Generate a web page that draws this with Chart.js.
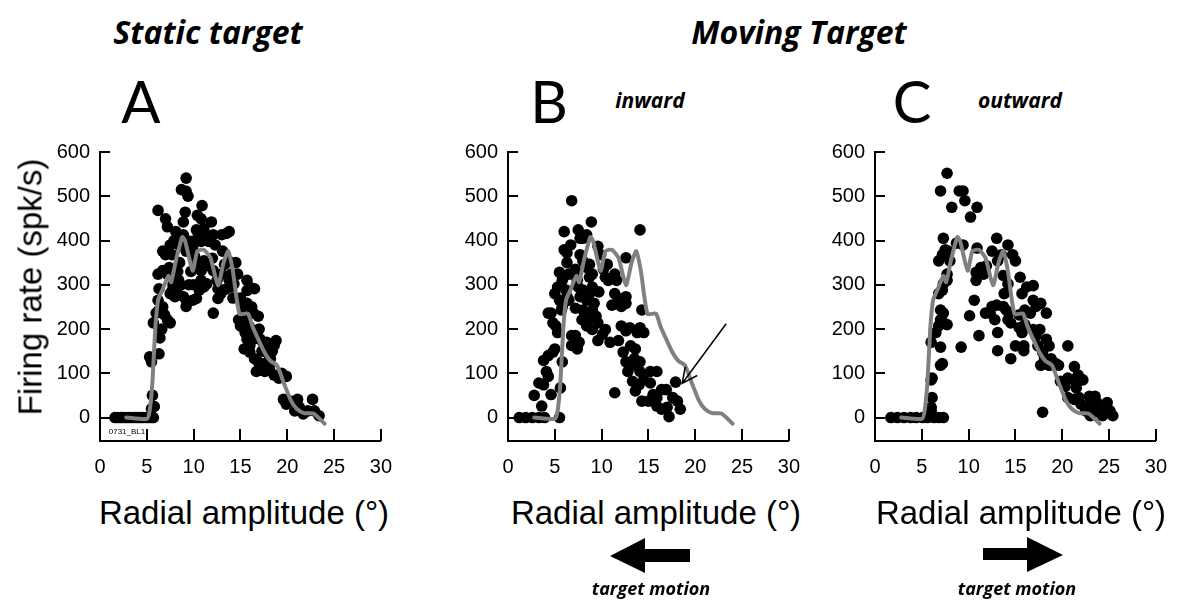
<!DOCTYPE html>
<html lang="en">
<head>
<meta charset="UTF-8">
<title>Firing rate vs radial amplitude</title>
<script src="https://cdn.jsdelivr.net/npm/chart.js"></script>
<style>
  body { margin: 0; width: 1187px; height: 601px; background: #fff; position: relative; overflow: hidden;
         font-family: "Liberation Sans", Arial, sans-serif; color: #000; }
  canvas.panel { position: absolute; top: 130px; }
  .t { position: absolute; white-space: nowrap; transform: translate(-50%, -50%); line-height: 1; }
  .hdr { font-family: "Open Sans", sans-serif; font-weight: bold; font-style: italic; font-size: 32px; }
  .letter { font-family: Lato, sans-serif; font-size: 58px; }
  .dir { font-family: "Open Sans", sans-serif; font-weight: bold; font-style: italic; font-size: 21px; }
  .axt { font-size: 33px; }
  .motion { font-family: "Open Sans", sans-serif; font-weight: bold; font-style: italic; font-size: 18px; }
  svg { position: absolute; left: 0; top: 0; }
</style>
</head>
<body>
<div class="t hdr" style="left:208px; top:32px;">Static target</div>
<div class="t hdr" style="left:799px; top:32px;">Moving Target</div>
<div class="t letter" style="left:141px; top:101px;">A</div>
<div class="t letter" style="left:549px; top:101px;">B</div>
<div class="t letter" style="left:912px; top:101px;">C</div>
<div class="t dir" style="left:650px; top:100px;">inward</div>
<div class="t dir" style="left:1020px; top:100px;">outward</div>

<canvas class="panel" id="chartA" width="376" height="351" style="left:30px;"></canvas>
<canvas class="panel" id="chartB" width="376" height="351" style="left:438px;"></canvas>
<canvas class="panel" id="chartC" width="376" height="351" style="left:805px;"></canvas>

<div class="t axt" style="left:30px; top:287px; transform: translate(-50%, -50%) rotate(-90deg);">Firing rate (spk/s)</div>
<div class="t axt" style="left:244px; top:512px;">Radial amplitude (°)</div>
<div class="t axt" style="left:656px; top:512px;">Radial amplitude (°)</div>
<div class="t axt" style="left:1021px; top:512px;">Radial amplitude (°)</div>
<div class="t" style="left:127px; top:432px; font-size:8px;">0731_BL1</div>

<svg width="1187" height="601">
  <polygon points="610,556 645,538 645,549 690,549 690,562 645,562 645,573" fill="#000"/>
  <polygon points="983,548 1027,548 1027,537 1063,555 1027,572 1027,560 983,560" fill="#000"/>
</svg>
<div class="t motion" style="left:651px; top:588px;">target motion</div>
<div class="t motion" style="left:1017px; top:588px;">target motion</div>

<script>
// axis ticks
const xTicks = [0, 5, 10, 15, 20, 25, 30];
const yTicks = [0, 100, 200, 300, 400, 500, 600];

// static tuning curve (grey line, same in every panel)
const curveX = [2.8, 5.0, 5.3, 5.6, 5.9, 6.2, 6.7, 7.3, 7.6, 8.1, 8.8, 9.1, 9.9, 10.4, 11.1, 11.8, 12.6, 13.2, 13.7, 14.2,
                14.9, 15.8, 16.3, 16.9, 17.5, 18.2, 18.9, 19.6, 20.4, 21.0, 21.8, 22.8, 24.0];
const curveY = [0, -3, 15, 80, 200, 265, 290, 320, 306, 354, 408, 398, 332, 376, 379, 361, 299, 350, 376, 330,
                234, 235, 205, 177, 150, 128, 118, 80, 38, 20, 10, 9, -14];

// A: static target
const staticX = [1.6, 1.9, 2.2, 2.5, 2.8, 3.1, 3.4, 3.7, 4.0, 4.3, 4.6, 4.9, 5.2, 5.5, 5.7,
  5.6, 5.8, 5.5, 5.3, 6.3, 5.5, 5.7, 6.0, 6.2, 6.3,
  6.7, 7.2, 7.5, 6.9, 6.3, 6.2, 6.7, 7.2, 7.4, 6.7,
  7.0, 7.5, 7.7, 6.2, 7.0, 7.2, 7.5, 7.7, 8.0, 8.2,
  8.0, 8.4, 8.6, 8.9, 9.2, 9.2, 9.9, 10.3, 8.9, 9.1,
  8.7, 9.2, 9.4, 9.2, 8.9, 9.1, 9.2, 9.6, 9.9, 10.1,
  10.4, 10.9, 10.8, 11.1, 10.3, 10.4, 10.8, 11.3, 11.6, 10.4,
  10.8, 11.1, 11.4, 10.8, 11.1, 11.4, 10.6, 11.9, 12.1, 12.3,
  12.1, 12.5, 12.1, 12.6, 12.6, 13.0, 13.5, 13.8, 13.1, 13.3,
  13.7, 13.0, 14.0, 13.8, 14.5, 14.7, 14.0, 14.3, 14.8, 15.4,
  15.7, 15.7, 16.0, 16.5, 15.2, 15.7, 15.0, 15.5, 15.9, 16.2,
  16.9, 16.4, 15.7, 16.0, 16.4, 16.7, 17.1, 17.4, 15.4, 16.0,
  16.5, 16.9, 17.4, 17.9, 18.1, 18.6, 18.8, 16.7, 17.2, 17.6,
  18.1, 18.6, 19.1, 19.4, 19.9, 17.8, 18.2, 19.6, 19.9, 20.3,
  21.1, 21.3, 20.8, 21.7, 22.2, 22.7, 22.9, 23.4,
  7.8, 8.3, 8.5, 9.5, 9.7, 10.0, 7.9, 8.4, 8.1, 6.6, 6.4, 12.0, 12.9, 13.4, 14.2, 15.0, 15.3, 16.2, 17.0, 17.3, 17.8, 18.4];
const staticY = [0, 0, 0, 0, 0, 0, 0, 0, 0, 0, 0, 0, 0, 0, 0,
  50, 25, 20, 137, 144, 126, 214, 236, 265, 243,
  250, 221, 214, 232, 291, 324, 332, 324, 339, 376,
  368, 390, 368, 468, 449, 431, 280, 287, 273, 284,
  324, 310, 299, 273, 265, 251, 265, 269, 442, 464,
  515, 511, 500, 541, 413, 390, 376, 398, 383, 365,
  457, 479, 449, 427, 424, 405, 398, 413, 398, 346,
  332, 354, 343, 310, 295, 302, 288, 442, 413, 390,
  332, 310, 236, 269, 291, 413, 416, 420, 376, 346,
  354, 324, 324, 310, 350, 324, 295, 302, 221, 225,
  310, 287, 295, 291, 251, 258, 207, 192, 207, 199,
  229, 236, 177, 163, 177, 185, 177, 170, 155, 148,
  133, 126, 118, 126, 140, 163, 174, 104, 107, 104,
  111, 96, 89, 100, 93, 148, 133, 41, 30, 37,
  41, 23, 15, 8, 15, 41, 15, 4,
  300, 330, 350, 300, 330, 300, 400, 390, 420, 200, 180, 360, 280, 290, 270, 270, 240, 250, 200, 150, 170, 150];

// B: moving target, inward
const inwardX = [1.2, 1.9, 2.6, 3.3, 3.9, 5.5,
  3.6, 4.6, 2.8, 5.6, 3.3, 3.8, 4.1, 4.3,
  3.8, 4.3, 4.8, 5.0, 5.8, 4.3, 4.6, 4.8, 5.3, 5.1,
  5.0, 5.3, 5.5, 5.8, 5.7, 5.5, 5.8, 6.2, 6.3, 6.5,
  6.0, 6.3, 6.7, 6.0, 6.8,
  6.3, 6.5, 7.0, 7.2, 7.4, 7.2, 6.8, 6.8, 7.4, 7.6, 7.2,
  7.5, 7.7, 8.0, 8.4, 8.9, 7.7, 8.0, 8.4, 8.7, 9.0, 8.7,
  7.5, 7.7, 8.0, 8.4, 8.7, 9.0, 9.2, 9.7,
  7.9, 8.2, 8.4, 8.7, 9.0, 9.4, 9.6, 8.0, 9.0,
  9.6, 10.1, 10.4, 10.9, 9.6, 9.9, 10.4, 10.7, 11.4, 11.6, 10.6, 10.2,
  11.1, 11.4, 11.8, 12.1, 12.6, 12.6, 12.1, 12.6, 13.0, 11.8, 12.6,
  12.3, 12.6, 13.0, 12.8, 13.5, 13.1, 13.6, 13.8, 14.1, 14.5,
  13.6, 14.1, 14.1, 13.3, 13.6, 14.0, 14.5, 15.2,
  11.4, 14.1, 14.3,
  14.3, 15.0, 15.5, 15.9, 16.4, 16.9, 15.2, 15.9,
  15.9, 16.4, 17.0, 17.6, 18.1, 18.4, 17.2, 17.9];
const inwardY = [0, 0, 0, 0, 0, 0,
  26, 52, 50, 67, 78, 74, 104, 93,
  129, 140, 148, 155, 126, 236, 236, 214, 192, 207,
  280, 295, 265, 251, 243, 328, 310, 288, 273, 265,
  379, 372, 390, 420, 490,
  350, 324, 324, 335, 310, 247, 185, 163, 155, 170, 185,
  424, 405, 405, 413, 442, 368, 354, 339, 346, 324, 317,
  295, 273, 288, 265, 280, 295, 258, 284,
  221, 229, 207, 225, 199, 229, 214, 243, 243,
  174, 188, 199, 170, 387, 368, 317, 310, 324, 310, 346, 335,
  254, 280, 269, 251, 258, 273, 207, 196, 203, 174, 361,
  148, 126, 118, 104, 133, 162, 155, 192, 203, 192,
  118, 126, 104, 82, 60, 74, 85, 78,
  56, 424, 243,
  37, 37, 52, 45, 63, 63, 104, 104,
  26, 19, 23, 45, 37, 19, 2, 80];

// C: moving target, outward
const outwardX = [1.7, 2.4, 3.1, 3.8, 4.4, 5.1, 5.6, 6.3, 6.8, 7.3,
  6.0, 6.1, 6.0, 6.0, 6.1,
  6.0, 7.0, 7.0, 7.2,
  6.5, 6.8, 7.0, 7.3, 7.7, 7.0, 7.3,
  6.8, 7.2, 7.3, 7.7, 6.8, 7.2, 7.5, 7.8, 8.0, 7.3, 7.7,
  7.7, 7.0, 8.2, 9.0, 9.4, 9.6, 10.2, 10.9,
  8.7, 9.4, 9.2, 10.1, 10.6, 10.8, 10.8,
  10.9, 11.3, 11.6, 11.9, 11.1,
  11.8, 12.3, 12.5, 13.0, 13.1, 12.8,
  12.5, 13.0, 13.1, 13.5, 14.2, 13.7, 14.2, 13.8, 13.1, 14.5,
  13.7, 14.0, 14.3, 14.5, 14.2, 14.7, 15.0,
  15.0, 15.9, 15.9, 15.4, 15.7, 16.0, 15.4,
  15.5, 15.7, 16.2, 16.9,
  16.0, 16.6, 16.9, 17.2, 17.7, 18.3, 16.9, 17.2, 17.6,
  17.4, 17.9, 18.3, 18.6, 18.8, 18.1, 17.7,
  18.6, 19.3, 19.6, 20.6, 17.9,
  19.8, 20.3, 20.6, 21.2, 21.3, 21.7, 22.2, 21.5,
  20.6, 21.3, 21.8, 22.0, 22.9, 23.5, 23.0, 23.7,
  22.5, 23.4, 24.1, 24.8, 25.1, 25.4, 23.0, 24.3];
const outwardY = [0, 0, 0, 0, 0, 0, 0, 0, 0, 0,
  15, 45, 23, 85, 89,
  170, 159, 118, 122,
  192, 207, 221, 214, 210, 243, 236,
  280, 288, 302, 310, 354, 368, 379, 376, 354, 405, 324,
  552, 512, 475, 512, 512, 490, 453, 475,
  394, 390, 159, 230, 265, 310, 328,
  383, 339, 324, 343, 185,
  236, 236, 251, 254, 192, 221,
  376, 405, 354, 368, 390, 321, 302, 280, 151, 133,
  251, 243, 236, 214, 221, 368, 354,
  162, 162, 151, 203, 192, 210, 232,
  317, 280, 295, 298,
  243, 236, 265, 251, 258, 236, 199, 185, 199,
  162, 148, 177, 162, 133, 133, 118,
  118, 122, 118, 162, 12,
  82, 70, 89, 85, 115, 96, 85, 67,
  45, 41, 45, 30, 48, 48, 30, 34,
  15, 12, 15, 34, 15, 4, 4, 4];

// pointer arrow drawn in panel B (data units: tail, head)
const pointerFrom = [23.3, 212];
const pointerTo = [18.6, 77];

function pts(xs, ys) {
  return xs.map((x, i) => ({ x: x, y: ys[i] }));
}

// ticks on the inside of the axes
const insideTicks = {
  id: 'insideTicks',
  beforeDatasetsDraw(chart) {
    const ctx = chart.ctx;
    const xs = chart.scales.x, ys = chart.scales.y;
    const area = chart.chartArea;
    ctx.save();
    ctx.strokeStyle = '#000';
    ctx.lineWidth = 2;
    ctx.beginPath();
    xTicks.filter(v => v > 0).forEach(v => {
      const px = Math.round(xs.getPixelForValue(v));
      ctx.moveTo(px, area.bottom);
      ctx.lineTo(px, area.bottom - 12);
    });
    yTicks.forEach(v => {
      const py = Math.round(ys.getPixelForValue(v));
      ctx.moveTo(area.left, py);
      ctx.lineTo(area.left + 10, py);
    });
    ctx.stroke();
    ctx.restore();
  }
};

const pointerArrow = {
  id: 'pointerArrow',
  afterDatasetsDraw(chart, args, opts) {
    if (!opts.show) return;
    const ctx = chart.ctx;
    const xs = chart.scales.x, ys = chart.scales.y;
    const x0 = xs.getPixelForValue(pointerFrom[0]), y0 = ys.getPixelForValue(pointerFrom[1]);
    const x1 = xs.getPixelForValue(pointerTo[0]), y1 = ys.getPixelForValue(pointerTo[1]);
    const a = Math.atan2(y1 - y0, x1 - x0);
    const len = 17;
    ctx.save();
    ctx.strokeStyle = '#000';
    ctx.lineWidth = 1.5;
    ctx.beginPath();
    ctx.moveTo(x0, y0);
    ctx.lineTo(x1, y1);
    ctx.moveTo(x1 - len * Math.cos(a - 0.45), y1 - len * Math.sin(a - 0.45));
    ctx.lineTo(x1, y1);
    ctx.lineTo(x1 - len * Math.cos(a + 0.45), y1 - len * Math.sin(a + 0.45));
    ctx.stroke();
    ctx.restore();
  }
};

function makePanel(id, xs, ys, showPointer) {
  const tickFont = { family: 'Liberation Sans', size: 20 };
  new Chart(document.getElementById(id), {
    type: 'scatter',
    data: {
      datasets: [
        {
          type: 'line',
          data: pts(curveX, curveY),
          borderColor: '#808080',
          borderWidth: 4,
          borderJoinStyle: 'round',
          borderCapStyle: 'round',
          pointRadius: 0,
          tension: 0.2,
          fill: false
        },
        {
          data: pts(xs, ys),
          backgroundColor: '#000',
          borderWidth: 0,
          pointRadius: 5.8
        }
      ]
    },
    options: {
      responsive: false,
      animation: false,
      devicePixelRatio: 1,
      layout: { padding: { top: 15, right: 12, left: 0, bottom: 0 } },
      plugins: {
        legend: { display: false },
        tooltip: { enabled: false },
        pointerArrow: { show: showPointer }
      },
      scales: {
        x: {
          type: 'linear', min: 0, max: 30,
          afterBuildTicks: s => { s.ticks = xTicks.map(v => ({ value: v })); },
          afterFit: s => { s.height = 40; },
          grid: { display: false, drawTicks: false },
          border: { display: true, color: '#000', width: 2 },
          ticks: { color: '#000', padding: 14, font: tickFont, maxRotation: 0, autoSkip: false }
        },
        y: {
          type: 'linear', min: -53, max: 600,
          afterBuildTicks: s => { s.ticks = yTicks.map(v => ({ value: v })); },
          afterFit: s => { s.width = 70; },
          grid: { display: false, drawTicks: false },
          border: { display: true, color: '#000', width: 2 },
          ticks: { color: '#000', padding: 10, font: tickFont, autoSkip: false }
        }
      }
    },
    plugins: [insideTicks, pointerArrow]
  });
}

makePanel('chartA', staticX, staticY, false);
makePanel('chartB', inwardX, inwardY, true);
makePanel('chartC', outwardX, outwardY, false);
</script>
</body>
</html>
